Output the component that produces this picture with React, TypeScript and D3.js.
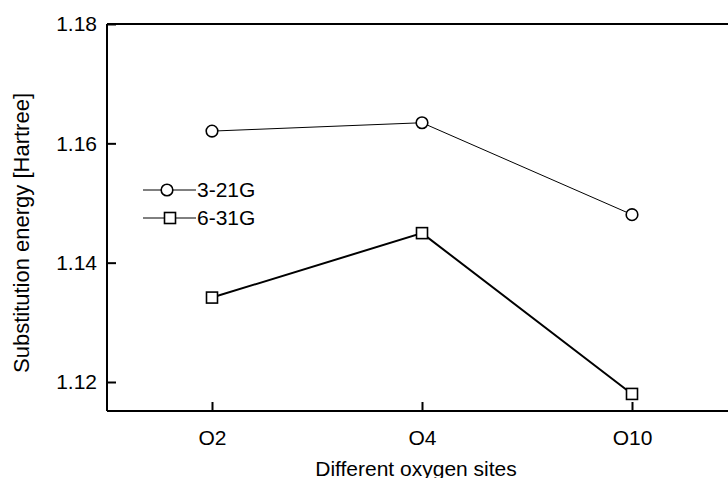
import { select, scaleLinear, scalePoint, axisLeft, axisBottom, line } from "d3";
import { useEffect, useRef } from "react";

const sites = ["O2", "O4", "O10"];
const basis321 = [1.16205, 1.16345, 1.14805];
const basis631 = [1.13415, 1.14495, 1.118];
const yTicks = [1.12, 1.14, 1.16, 1.18];
const seriesNames = ["3-21G", "6-31G"];

const App = () => {
  const ref = useRef<SVGSVGElement>(null);

  useEffect(() => {
    InitChart();
  }, []);

  function InitChart() {
    const vis = select(ref.current);
    vis.selectAll("*").remove();

    const WIDTH = 728,
      HEIGHT = 478,
      MARGINS = { top: 24, left: 107, bottom: 67 };
    const font = "'Liberation Sans', Arial, sans-serif";

    const xScale = scalePoint<string>()
      .domain(sites)
      .range([MARGINS.left, 737])
      .padding(0.5);
    const yScale = scaleLinear()
      .domain([1.18, 1.12])
      .range([MARGINS.top, 382]);
    const bottomY = HEIGHT - MARGINS.bottom;

    // frame: top line
    vis.append("line")
      .attr("x1", MARGINS.left).attr("x2", WIDTH + 10)
      .attr("y1", MARGINS.top).attr("y2", MARGINS.top)
      .attr("stroke", "#000").attr("stroke-width", 2);

    const yAxis = axisLeft(yScale)
      .tickValues(yTicks)
      .tickSize(-9)
      .tickPadding(10)
      .tickFormat((d: any) => d.toFixed(2));
    const yg = vis.append("g")
      .attr("transform", "translate(" + MARGINS.left + ",0)")
      .call(yAxis);
    yg.select(".domain")
      .attr("d", "M0," + MARGINS.top + "V" + bottomY)
      .attr("stroke-width", 2);

    const xAxis = axisBottom(xScale).tickSize(-9).tickPadding(19);
    const xg = vis.append("g")
      .attr("transform", "translate(0," + bottomY + ")")
      .call(xAxis);
    xg.select(".domain")
      .attr("d", "M" + MARGINS.left + ",0H" + (WIDTH + 10))
      .attr("stroke-width", 2);

    vis.selectAll(".tick line").attr("stroke-width", 2);
    vis.selectAll(".tick text")
      .attr("font-family", font)
      .attr("font-size", 21)
      .attr("fill", "#000");

    // axis titles
    vis.append("text")
      .attr("x", 416).attr("y", 476)
      .attr("text-anchor", "middle")
      .attr("font-family", font).attr("font-size", 21)
      .text("Different oxygen sites");
    vis.append("text")
      .attr("transform", "translate(29,233) rotate(-90)")
      .attr("text-anchor", "middle")
      .attr("font-family", font).attr("font-size", 22)
      .text("Substitution energy [Hartree]");

    const lineGen = line<number>()
      .x((d, i) => xScale(sites[i]) as number)
      .y((d) => yScale(d));

    // 3-21G: thin line, open circles
    vis.append("path")
      .attr("d", lineGen(basis321))
      .attr("fill", "none").attr("stroke", "#000").attr("stroke-width", 1);
    vis.selectAll(".c321").data(basis321).enter().append("circle")
      .attr("cx", (d, i) => xScale(sites[i]) as number)
      .attr("cy", (d) => yScale(d))
      .attr("r", 5.8)
      .attr("fill", "#fff").attr("stroke", "#000").attr("stroke-width", 1.6);

    // 6-31G: thick line, open squares
    vis.append("path")
      .attr("d", lineGen(basis631))
      .attr("fill", "none").attr("stroke", "#000").attr("stroke-width", 2);
    vis.selectAll(".s631").data(basis631).enter().append("rect")
      .attr("x", (d, i) => (xScale(sites[i]) as number) - 5.5)
      .attr("y", (d) => yScale(d) - 5.5)
      .attr("width", 11).attr("height", 11)
      .attr("fill", "#fff").attr("stroke", "#000").attr("stroke-width", 1.6);

    // legend
    const legendY = [190, 218];
    seriesNames.forEach((name, i) => {
      const g = vis.append("g");
      g.append("line")
        .attr("x1", 143).attr("x2", 196)
        .attr("y1", legendY[i]).attr("y2", legendY[i])
        .attr("stroke", "#000").attr("stroke-width", 1);
      if (i === 0) {
        g.append("circle")
          .attr("cx", 167).attr("cy", legendY[i]).attr("r", 5.8)
          .attr("fill", "#fff").attr("stroke", "#000").attr("stroke-width", 1.6);
      } else {
        g.append("rect")
          .attr("x", 170 - 5.5).attr("y", legendY[i] - 5.5)
          .attr("width", 11).attr("height", 11)
          .attr("fill", "#fff").attr("stroke", "#000").attr("stroke-width", 1.6);
      }
      g.append("text")
        .attr("x", 197).attr("y", legendY[i])
        .attr("dy", "0.35em")
        .attr("font-family", font).attr("font-size", 21)
        .text(name);
    });
  }

  return (
    <div style={{ position: "absolute", left: 0, top: 0 }}>
      <svg ref={ref} width={728} height={478} style={{ display: "block", background: "#fff" }}></svg>
    </div>
  );
};

export default App;
